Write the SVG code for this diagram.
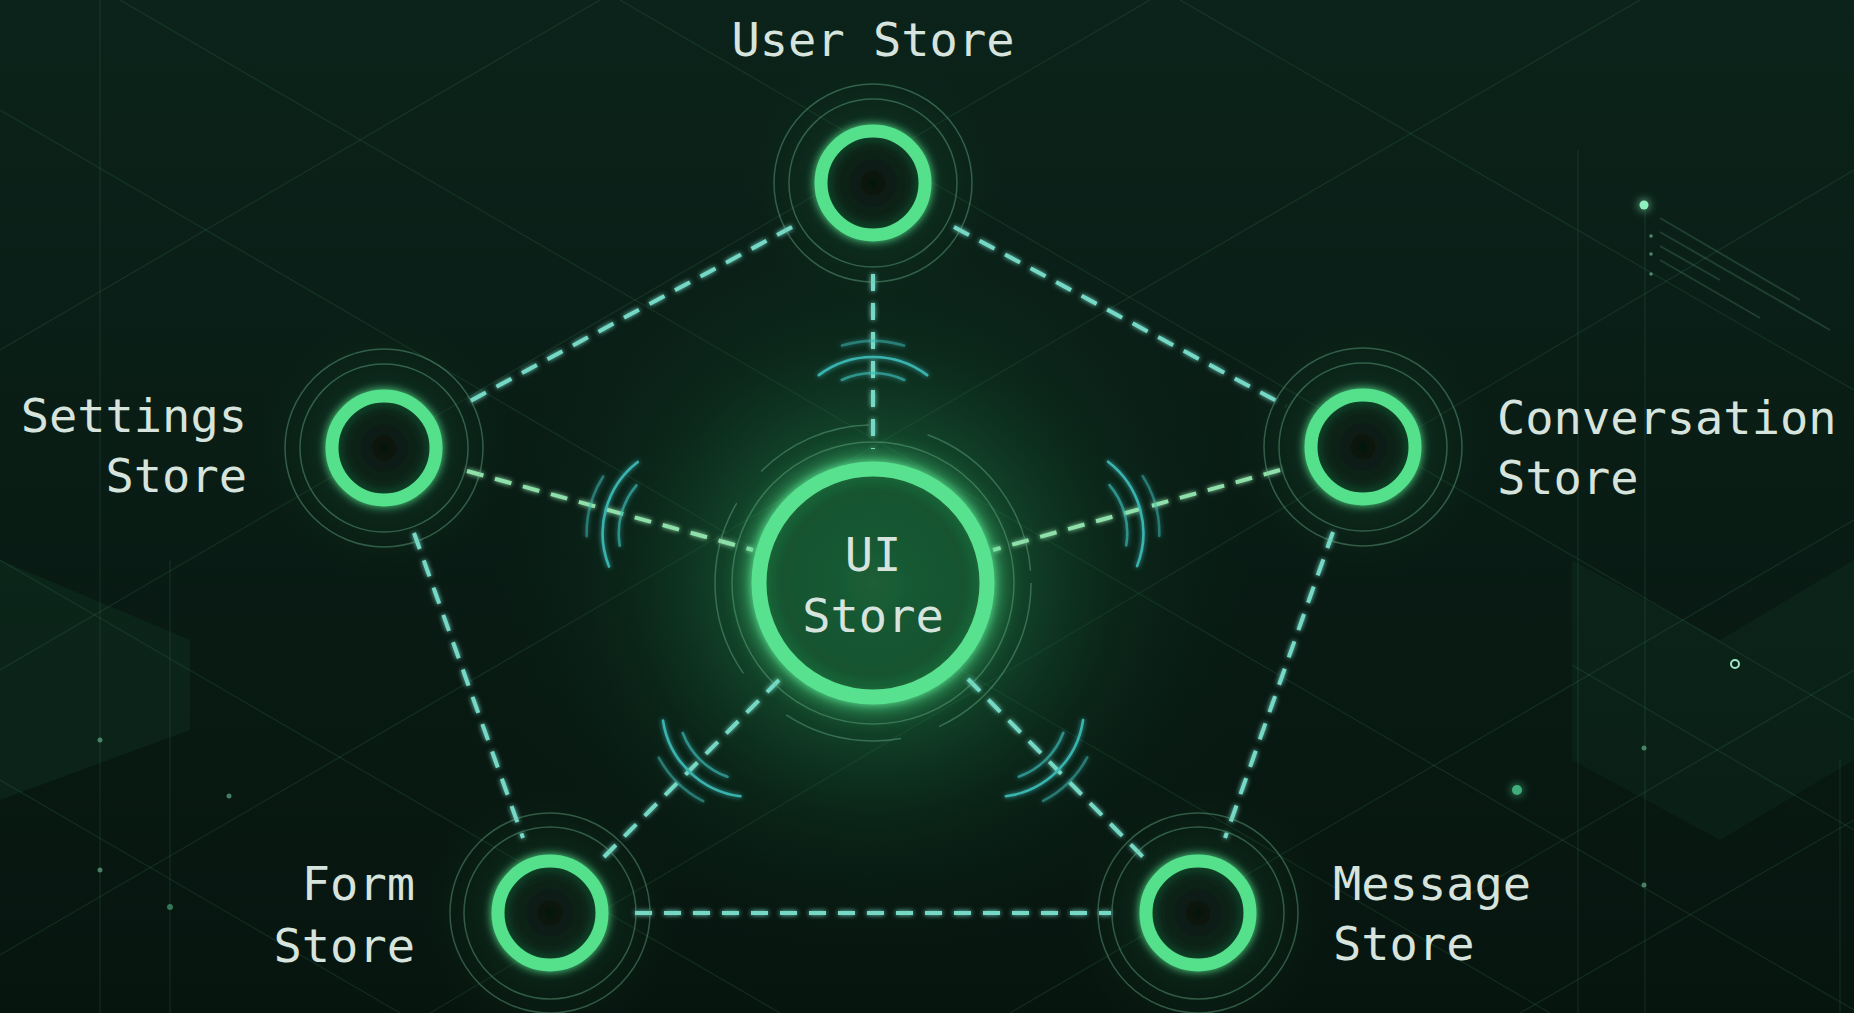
<svg xmlns="http://www.w3.org/2000/svg" xmlns:xlink="http://www.w3.org/1999/xlink" width="1854" height="1013" viewBox="0 0 1854 1013">
<defs>
<style>
.lbl{font-family:"DejaVu Sans Mono","Liberation Mono",monospace;font-size:47px;fill:#d6e4dd}
.conn{fill:none;stroke:#74d9c6;stroke-width:4;stroke-dasharray:17 12}
.conn-g{stroke:#8fe0aa}
.ring{fill:url(#inner);stroke:#55e08c;stroke-width:13}
.halo{fill:none;stroke:#74c398;stroke-opacity:.38;stroke-width:1.5}
.wave{fill:none;stroke:#3bb8b4;stroke-width:2.6;stroke-linecap:round}
.grid{stroke:#5aa67f;stroke-opacity:.15;stroke-width:1.2;fill:none}
.dot{fill:#8ff0bf}
</style>
<linearGradient id="bg" x1="0" y1="0" x2="0" y2="1">
<stop offset="0" stop-color="#0b231a"/><stop offset="1" stop-color="#07150f"/>
</linearGradient>
<radialGradient id="uiGlow" cx="873" cy="583" r="380" gradientUnits="userSpaceOnUse">
<stop offset="0" stop-color="#2fa65c" stop-opacity=".8"/>
<stop offset=".3" stop-color="#1f7a45" stop-opacity=".55"/>
<stop offset=".65" stop-color="#124a2c" stop-opacity=".22"/>
<stop offset="1" stop-color="#0b2a1a" stop-opacity="0"/>
</radialGradient>
<radialGradient id="nodeGlow">
<stop offset="0" stop-color="#1d6a3f" stop-opacity=".5"/>
<stop offset="1" stop-color="#0b2a1a" stop-opacity="0"/>
</radialGradient>
<radialGradient id="inner">
<stop offset="0" stop-color="#06130d"/><stop offset=".7" stop-color="#0b261a"/><stop offset="1" stop-color="#17512f"/>
</radialGradient>
<radialGradient id="uiInner">
<stop offset="0" stop-color="#1b5e37"/><stop offset=".8" stop-color="#15532f"/><stop offset="1" stop-color="#1d6d3d"/>
</radialGradient>
<filter id="glow" filterUnits="userSpaceOnUse" x="0" y="0" width="1854" height="1013">
<feGaussianBlur stdDeviation="5" result="b"/>
<feMerge><feMergeNode in="b"/><feMergeNode in="SourceGraphic"/></feMerge>
</filter>
<filter id="softglow" filterUnits="userSpaceOnUse" x="0" y="0" width="1854" height="1013">
<feGaussianBlur stdDeviation="2.5" result="b"/>
<feMerge><feMergeNode in="b"/><feMergeNode in="SourceGraphic"/></feMerge>
</filter>
<filter id="blur12" filterUnits="userSpaceOnUse" x="0" y="0" width="1854" height="1013">
<feGaussianBlur stdDeviation="12"/>
</filter>
<g id="waves">
<path class="wave" stroke-opacity=".65" d="M-67,-31.3 A74 74 0 0 0 -67,31.3"/>
<path class="wave" stroke-opacity=".95" d="M-71.9,-54.2 A90 90 0 0 0 -71.9,54.2"/>
<path class="wave" stroke-opacity=".5" d="M-101.4,-31 A106 106 0 0 0 -101.4,31"/>
</g>
</defs>

<g id="background">
<rect width="1854" height="1013" fill="url(#bg)"/>
<polygon points="0,560 190,640 190,730 0,800" fill="#1f5f40" fill-opacity=".16"/>
<polygon points="1572,560 1720,640 1854,560 1854,760 1720,840 1572,760" fill="#1f5f40" fill-opacity=".13"/>
<g class="grid">
<line x1="120" y1="0" x2="1854" y2="1010"/>
<line x1="0" y1="110" x2="1550" y2="1013"/>
<line x1="620" y1="0" x2="1854" y2="720"/>
<line x1="1180" y1="0" x2="1854" y2="390"/>
<line x1="0" y1="560" x2="780" y2="1013"/>
<line x1="0" y1="780" x2="400" y2="1013"/>
<line x1="600" y1="0" x2="0" y2="350"/>
<line x1="1150" y1="0" x2="0" y2="670"/>
<line x1="1640" y1="0" x2="0" y2="955"/>
<line x1="1854" y1="170" x2="430" y2="1013"/>
<line x1="1854" y1="520" x2="1010" y2="1013"/>
<line x1="1854" y1="820" x2="1520" y2="1013"/>
<line x1="100" y1="0" x2="100" y2="1013"/>
<line x1="1578" y1="150" x2="1578" y2="1013"/>
<line x1="1645" y1="205" x2="1645" y2="1013"/>
<line x1="1840" y1="760" x2="1840" y2="1013"/>
<line x1="1572" y1="665" x2="1854" y2="830"/>
<line x1="1460" y1="900" x2="1854" y2="670"/>
<line x1="170" y1="560" x2="170" y2="1013"/>
</g>
<g stroke="#8fe6bd" stroke-opacity=".16" stroke-width="2">
<line x1="1660" y1="218" x2="1800" y2="300"/>
<line x1="1660" y1="232" x2="1830" y2="330"/>
<line x1="1660" y1="246" x2="1720" y2="280"/>
<line x1="1660" y1="260" x2="1760" y2="318"/>
</g>
<circle cx="1644" cy="205" r="4.5" class="dot" filter="url(#glow)"/>
<circle cx="1651" cy="236" r="1.8" class="dot" opacity=".5"/>
<circle cx="1651" cy="254" r="1.8" class="dot" opacity=".5"/>
<circle cx="1651" cy="274" r="1.8" class="dot" opacity=".5"/>
<circle cx="1735" cy="664" r="4" fill="none" stroke="#9fe9c6" stroke-width="2"/>
<circle cx="1517" cy="790" r="5" fill="#3fae7a" filter="url(#glow)"/>
<circle cx="1644" cy="748" r="2.5" fill="#6fbf98" opacity=".6"/>
<circle cx="1644" cy="885" r="2.5" fill="#6fbf98" opacity=".6"/>
<circle cx="100" cy="740" r="2.5" fill="#6fbf98" opacity=".6"/>
<circle cx="229" cy="796" r="2.5" fill="#6fbf98" opacity=".6"/>
<circle cx="100" cy="870" r="2.5" fill="#6fbf98" opacity=".6"/>
<circle cx="170" cy="907" r="3" fill="#4fb483" opacity=".6"/>
<rect width="1854" height="1013" fill="url(#uiGlow)"/>
<circle cx="384" cy="448" r="130" fill="url(#nodeGlow)"/>
<circle cx="1363" cy="447" r="130" fill="url(#nodeGlow)"/>
<circle cx="873" cy="183" r="130" fill="url(#nodeGlow)"/>
<circle cx="550" cy="913" r="130" fill="url(#nodeGlow)"/>
<circle cx="1198" cy="913" r="130" fill="url(#nodeGlow)"/>
</g>

<g id="connectors" filter="url(#softglow)">
<line class="conn" x1="792" y1="227" x2="461" y2="406"/>
<line class="conn" x1="954" y1="227" x2="1286" y2="406"/>
<line class="conn" x1="873" y1="274" x2="873" y2="449"/>
<line class="conn conn-g" x1="467" y1="471" x2="753" y2="550"/>
<line class="conn conn-g" x1="1280" y1="470" x2="993" y2="550"/>
<line class="conn" x1="414" y1="533" x2="523" y2="838"/>
<line class="conn" x1="1333" y1="532" x2="1225" y2="838"/>
<line class="conn" x1="779" y1="680" x2="604" y2="857"/>
<line class="conn" x1="968" y1="679" x2="1143" y2="857"/>
<line class="conn" x1="635" y1="913" x2="1111" y2="913"/>
<g id="signal-waves">
<use xlink:href="#waves" href="#waves" transform="translate(873,447) rotate(90)"/>
<use xlink:href="#waves" href="#waves" transform="translate(692.7,533.3) rotate(15.4)"/>
<use xlink:href="#waves" href="#waves" transform="translate(1053.3,533.1) rotate(164.5)"/>
<use xlink:href="#waves" href="#waves" transform="translate(752,707) rotate(-45.6)"/>
<use xlink:href="#waves" href="#waves" transform="translate(994,707) rotate(225.4)"/>
</g>
</g>

<g id="node-ui">
<circle cx="873" cy="583" r="158" class="halo" stroke-dasharray="180 40 120 60"/>
<circle cx="873" cy="583" r="141" class="halo"/>
<circle cx="873" cy="583" r="114" fill="none" stroke="#4fe08a" stroke-width="26" opacity=".55" filter="url(#blur12)"/>
<circle cx="873" cy="583" r="114" fill="url(#uiInner)" stroke="#58e18e" stroke-width="15" filter="url(#glow)"/>
<text class="lbl" x="873" y="571" text-anchor="middle" fill="#dff2e6">UI</text>
<text class="lbl" x="873" y="632" text-anchor="middle" fill="#dff2e6">Store</text>
</g>

<g id="node-user">
<circle cx="873" cy="183" r="99" class="halo"/>
<circle cx="873" cy="183" r="84" class="halo"/>
<circle cx="873" cy="183" r="52" class="ring" filter="url(#glow)"/>
<text class="lbl" x="873" y="56" text-anchor="middle">User Store</text>
</g>

<g id="node-settings">
<circle cx="384" cy="448" r="99" class="halo"/>
<circle cx="384" cy="448" r="84" class="halo"/>
<circle cx="384" cy="448" r="52" class="ring" filter="url(#glow)"/>
<text class="lbl" x="247" y="432" text-anchor="end">Settings</text>
<text class="lbl" x="247" y="492" text-anchor="end">Store</text>
</g>

<g id="node-conversation">
<circle cx="1363" cy="447" r="99" class="halo"/>
<circle cx="1363" cy="447" r="84" class="halo"/>
<circle cx="1363" cy="447" r="52" class="ring" filter="url(#glow)"/>
<text class="lbl" x="1497" y="434">Conversation</text>
<text class="lbl" x="1497" y="494">Store</text>
</g>

<g id="node-form">
<circle cx="550" cy="913" r="100" class="halo"/>
<circle cx="550" cy="913" r="86" class="halo"/>
<circle cx="550" cy="913" r="52" class="ring" filter="url(#glow)"/>
<text class="lbl" x="415" y="900" text-anchor="end">Form</text>
<text class="lbl" x="415" y="962" text-anchor="end">Store</text>
</g>

<g id="node-message">
<circle cx="1198" cy="913" r="100" class="halo"/>
<circle cx="1198" cy="913" r="86" class="halo"/>
<circle cx="1198" cy="913" r="52" class="ring" filter="url(#glow)"/>
<text class="lbl" x="1333" y="900">Message</text>
<text class="lbl" x="1333" y="960">Store</text>
</g>
</svg>
